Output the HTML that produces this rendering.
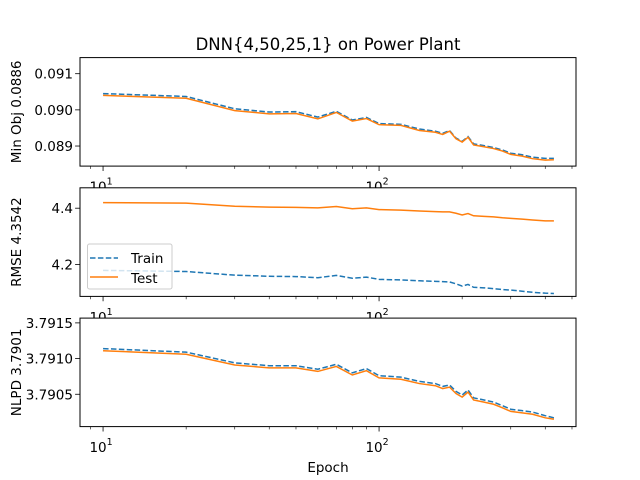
<!DOCTYPE html>
<html><head><meta charset="utf-8"><style>
body{margin:0;background:#fff}
svg{display:block;font-family:"DejaVu Sans","Liberation Sans",sans-serif}
</style></head><body>
<svg id="fig" width="640" height="480" viewBox="0 0 640 480" xmlns="http://www.w3.org/2000/svg">
<rect width="640" height="480" fill="#fff"/>
<text x="328" y="50" font-size="16.5" text-anchor="middle">DNN{4,50,25,1} on Power Plant</text>
<text x="328" y="472" font-size="13.5" text-anchor="middle">Epoch</text>
</svg>
<script>
const epochs=[10,20,30,40,50,60,70,80,90,100,120,140,160,170,180,190,200,210,220,240,260,280,300,330,360,400,430];
const objTest=[0.09040,0.09032,0.08998,0.08989,0.08990,0.08975,0.08993,0.08969,0.08976,0.08959,0.08957,0.08943,0.08938,0.08932,0.08941,0.08920,0.08911,0.08924,0.08903,0.08898,0.08893,0.08886,0.08877,0.08872,0.08865,0.08861,0.08862];
const objTrain=[0.09045,0.09037,0.09003,0.08994,0.08995,0.08980,0.08996,0.08972,0.08979,0.08962,0.08960,0.08947,0.08941,0.08935,0.08943,0.08922,0.08913,0.08926,0.08906,0.08901,0.08896,0.08889,0.08880,0.08876,0.08869,0.08866,0.08866];
const rmseTest=[4.420,4.418,4.407,4.404,4.403,4.401,4.406,4.398,4.401,4.395,4.393,4.390,4.388,4.387,4.387,4.382,4.376,4.381,4.373,4.371,4.369,4.366,4.364,4.361,4.358,4.355,4.355];
const rmseTrain=[4.179,4.175,4.162,4.158,4.157,4.153,4.161,4.151,4.155,4.147,4.145,4.142,4.140,4.139,4.138,4.131,4.123,4.129,4.119,4.117,4.114,4.111,4.109,4.105,4.101,4.098,4.097];
const nlpdTest=[3.79111,3.79106,3.79091,3.79087,3.79087,3.79082,3.79089,3.79077,3.79083,3.79073,3.79071,3.79065,3.79062,3.79058,3.79060,3.79051,3.79046,3.79053,3.79042,3.79039,3.79036,3.79031,3.79026,3.79024,3.79022,3.79017,3.79015];
const nlpdTrain=[3.79114,3.79109,3.79094,3.79090,3.79090,3.79085,3.79092,3.79080,3.79086,3.79076,3.79074,3.79068,3.79065,3.79061,3.79063,3.79054,3.79049,3.79056,3.79045,3.79042,3.79039,3.79034,3.79029,3.79027,3.79025,3.79020,3.79017];
const yTicks1=[0.089,0.090,0.091], yLab1=["0.089","0.090","0.091"];
const yTicks2=[4.2,4.4], yLab2=["4.2","4.4"];
const yTicks3=[3.7905,3.7910,3.7915], yLab3=["3.7905","3.7910","3.7915"];

const NS="http://www.w3.org/2000/svg", svg=document.getElementById('fig');
function mk(tag,attrs,parent){const e=document.createElementNS(NS,tag);for(const k in attrs)e.setAttribute(k,attrs[k]);(parent||svg).appendChild(e);return e;}
const L=80,R=576;
const xLo=Math.log10(8.25),xHi=Math.log10(517);
const xs=v=>L+(Math.log10(v)-xLo)/(xHi-xLo)*(R-L);
const panels=[
 {top:57.6,bot:166.1,ymin:0.088445,ymax:0.091445,train:objTrain,test:objTest,yt:yTicks1,yl:yLab1,label:"Min Obj 0.0886",name:"min-obj"},
 {top:187.8,bot:296.4,ymin:4.0865,ymax:4.4725,train:rmseTrain,test:rmseTest,yt:yTicks2,yl:yLab2,label:"RMSE 4.3542",name:"rmse"},
 {top:318.1,bot:426.6,ymin:3.790047,ymax:3.791567,train:nlpdTrain,test:nlpdTest,yt:yTicks3,yl:yLab3,label:"NLPD 3.7901",name:"nlpd"}
];
panels.forEach((p,i)=>{
 const ys=v=>p.bot-(v-p.ymin)/(p.ymax-p.ymin)*(p.bot-p.top);
 const g=mk('g',{});
 
 
 const bg=mk('rect',{x:L,y:p.top,width:R-L,height:p.bot-p.top,fill:'#fff'},g);
 
 
 const pts=a=>a.map((v,j)=>xs(epochs[j]).toFixed(2)+','+ys(v).toFixed(2)).join(' ');
 const lt=mk('polyline',{points:pts(p.train),fill:'none',stroke:'#1f77b4','stroke-width':1.5,'stroke-dasharray':'5.5,2.4'},g);
 
 
 const ls=mk('polyline',{points:pts(p.test),fill:'none',stroke:'#ff7f0e','stroke-width':1.5},g);
 
 
 mk('rect',{x:L,y:p.top,width:R-L,height:p.bot-p.top,fill:'none',stroke:'#000','stroke-width':1},g);
 [10,100].forEach(d=>{const x=xs(d);mk('line',{x1:x,x2:x,y1:p.bot,y2:p.bot+4.9,stroke:'#000','stroke-width':0.8},g);
  const t=mk('text',{x:x-2,y:p.bot+25.5,'font-size':13.5,'text-anchor':'middle'},g);
  
  
  t.textContent='10';const s=mk('tspan',{dy:-7,'font-size':9.5},t);s.textContent=d===10?'1':'2';});
 [9,20,30,40,50,60,70,80,90,200,300,400,500].forEach(m=>{const x=xs(m);mk('line',{x1:x,x2:x,y1:p.bot,y2:p.bot+2.8,stroke:'#000','stroke-width':0.6},g);});
 p.yt.forEach((v,j)=>{const y=ys(v);mk('line',{x1:L-4.9,x2:L,y1:y,y2:y,stroke:'#000','stroke-width':0.8},g);
  const t=mk('text',{x:L-7,y:y+5,'font-size':13.5,'text-anchor':'end'},g);
  
  
  t.textContent=p.yl[j];});
 const yl=mk('text',{x:0,y:0,'font-size':13.5,'text-anchor':'middle',transform:`translate(21,${(p.top+p.bot)/2}) rotate(-90)`},g);
 
 
 yl.textContent=p.label;
});
const lg=mk('g',{});


mk('rect',{x:87.5,y:244,width:84.5,height:45,rx:2,fill:'#fff','fill-opacity':0.8,stroke:'#ccc','stroke-width':1},lg);
mk('line',{x1:90,x2:118,y1:258,y2:258,stroke:'#1f77b4','stroke-width':1.5,'stroke-dasharray':'5.5,2.4'},lg);
const t1=mk('text',{x:131,y:263,'font-size':13.5},lg);t1.textContent='Train';


mk('line',{x1:90,x2:118,y1:277,y2:277,stroke:'#ff7f0e','stroke-width':1.5},lg);
const t2=mk('text',{x:131,y:283,'font-size':13.5},lg);t2.textContent='Test';


</script>
</body></html>
